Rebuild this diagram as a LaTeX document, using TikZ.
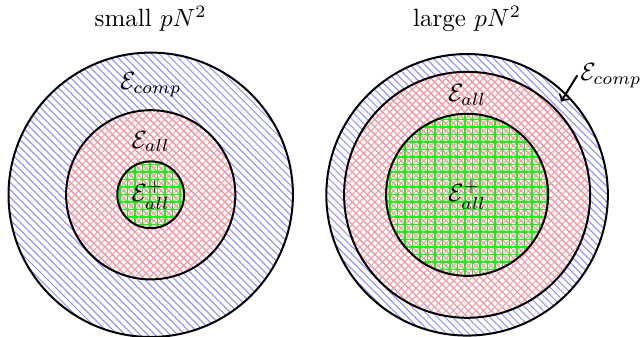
\documentclass[tikz,border=0pt]{standalone}
\usetikzlibrary{patterns, patterns.meta, positioning}
\begin{document}
\begin{tikzpicture}[
  outerset/.style={draw, thick, pattern=north west lines, pattern color=blue!45},
  midset/.style={draw, thick, pattern=crosshatch, pattern color=red!40},
  innerset/.style={draw, thick,
    pattern={Hatch[distance=3pt, angle=0, line width=0.6pt]}, pattern color=green},
  arr/.style={->, thick},
]
\useasboundingbox (-2.12,-2.0) rectangle (6.91,2.74);
% small pN^2
\draw[outerset] (0,0) circle (2);
\draw[midset]   (0,0) circle (1.19);
\draw[innerset] (0,0) circle (0.47);
\node (titleL) at (0,2.47) {small $pN^2$};
\node (compL)  at (0,1.55) {$\mathcal{E}_{comp}$};
\node (allL)   at (0,0.75) {$\mathcal{E}_{all}$};
\node (plusL)  at (0,0)    {$\mathcal{E}_{all}^{+}$};
% large pN^2
\draw[outerset] (4.45,0) circle (1.98);
\draw[midset]   (4.45,0) circle (1.73);
\draw[innerset] (4.45,0) circle (1.14);
\node (titleR) at (4.45,2.47) {large $pN^2$};
\node (allR)   at (4.45,1.40) {$\mathcal{E}_{all}$};
\node (plusR)  at (4.45,0)    {$\mathcal{E}_{all}^{+}$};
\node[anchor=west, inner sep=1pt] (compR) at (6.0,1.68) {$\mathcal{E}_{comp}$};
\coordinate (tipR) at (5.77,1.31);
\draw[arr] (compR.west) -- (tipR);
\end{tikzpicture}
\end{document}
